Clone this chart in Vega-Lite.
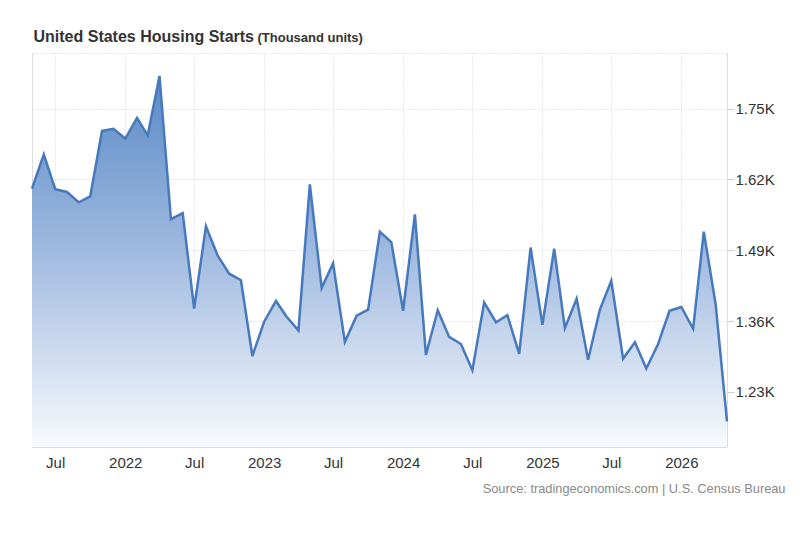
{
  "$schema": "https://vega.github.io/schema/vega-lite/v6.json",
  "width": 695,
  "height": 394,
  "autosize": {"type": "none"},
  "padding": {"left": 32, "top": 53, "right": 73, "bottom": 99},
  "background": "#ffffff",
  "config": {
    "view": {"stroke": null},
    "font": "Liberation Sans"
  },
  "data": {
    "values": [
      {"date": "2021/05/01", "starts": 1603},
      {"date": "2021/06/01", "starts": 1666},
      {"date": "2021/07/01", "starts": 1602},
      {"date": "2021/08/01", "starts": 1597},
      {"date": "2021/09/01", "starts": 1578},
      {"date": "2021/10/01", "starts": 1589},
      {"date": "2021/11/01", "starts": 1709},
      {"date": "2021/12/01", "starts": 1713},
      {"date": "2022/01/01", "starts": 1695},
      {"date": "2022/02/01", "starts": 1733},
      {"date": "2022/03/01", "starts": 1701},
      {"date": "2022/04/01", "starts": 1810},
      {"date": "2022/05/01", "starts": 1547},
      {"date": "2022/06/01", "starts": 1558},
      {"date": "2022/07/01", "starts": 1383},
      {"date": "2022/08/01", "starts": 1534},
      {"date": "2022/09/01", "starts": 1480},
      {"date": "2022/10/01", "starts": 1447},
      {"date": "2022/11/01", "starts": 1435},
      {"date": "2022/12/01", "starts": 1296},
      {"date": "2023/01/01", "starts": 1359},
      {"date": "2023/02/01", "starts": 1397},
      {"date": "2023/03/01", "starts": 1368},
      {"date": "2023/04/01", "starts": 1343},
      {"date": "2023/05/01", "starts": 1611},
      {"date": "2023/06/01", "starts": 1421},
      {"date": "2023/07/01", "starts": 1466},
      {"date": "2023/08/01", "starts": 1322},
      {"date": "2023/09/01", "starts": 1370},
      {"date": "2023/10/01", "starts": 1381},
      {"date": "2023/11/01", "starts": 1524},
      {"date": "2023/12/01", "starts": 1505},
      {"date": "2024/01/01", "starts": 1379},
      {"date": "2024/02/01", "starts": 1556},
      {"date": "2024/03/01", "starts": 1298},
      {"date": "2024/04/01", "starts": 1380},
      {"date": "2024/05/01", "starts": 1331},
      {"date": "2024/06/01", "starts": 1318},
      {"date": "2024/07/01", "starts": 1270},
      {"date": "2024/08/01", "starts": 1394},
      {"date": "2024/09/01", "starts": 1358},
      {"date": "2024/10/01", "starts": 1371},
      {"date": "2024/11/01", "starts": 1300},
      {"date": "2024/12/01", "starts": 1495},
      {"date": "2025/01/01", "starts": 1353},
      {"date": "2025/02/01", "starts": 1493},
      {"date": "2025/03/01", "starts": 1347},
      {"date": "2025/04/01", "starts": 1401},
      {"date": "2025/05/01", "starts": 1289},
      {"date": "2025/06/01", "starts": 1381},
      {"date": "2025/07/01", "starts": 1434},
      {"date": "2025/08/01", "starts": 1291},
      {"date": "2025/09/01", "starts": 1321},
      {"date": "2025/10/01", "starts": 1273},
      {"date": "2025/11/01", "starts": 1318},
      {"date": "2025/12/01", "starts": 1379},
      {"date": "2026/01/01", "starts": 1386},
      {"date": "2026/02/01", "starts": 1346},
      {"date": "2026/03/01", "starts": 1524},
      {"date": "2026/04/01", "starts": 1392},
      {"date": "2026/05/01", "starts": 1176}
    ]
  },
  "resolve": {"axis": {"x": "independent", "y": "independent"}},
  "layer": [
    {
      "mark": {
        "type": "area",
        "fill": {
          "x1": 0, "y1": 0, "x2": 0, "y2": 1,
          "gradient": "linear",
          "stops": [
            {"offset": 0, "color": "#5a8ac6"},
            {"offset": 0.45, "color": "#9cb7de"},
            {"offset": 1, "color": "#f8fafd"}
          ]
        }
      },
      "encoding": {
        "x": {
          "field": "date",
          "type": "temporal",
          "scale": {"nice": false},
          "axis": {
            "orient": "bottom",
            "values": [
              {"year": 2021, "month": 7, "date": 1},
              {"year": 2022, "month": 1, "date": 1},
              {"year": 2022, "month": 7, "date": 1},
              {"year": 2023, "month": 1, "date": 1},
              {"year": 2023, "month": 7, "date": 1},
              {"year": 2024, "month": 1, "date": 1},
              {"year": 2024, "month": 7, "date": 1},
              {"year": 2025, "month": 1, "date": 1},
              {"year": 2025, "month": 7, "date": 1},
              {"year": 2026, "month": 1, "date": 1}
            ],
            "labelExpr": "month(datum.value) === 0 ? timeFormat(datum.value, '%Y') : timeFormat(datum.value, '%b')",
            "labelFontSize": 15,
            "labelColor": "#333333",
            "labelPadding": 8,
            "labelFlush": false,
            "labelOverlap": false,
            "ticks": false,
            "grid": true,
            "gridColor": "#d4d4d4",
            "gridDash": [1, 2],
            "domain": true,
            "domainColor": "#dddddd",
            "title": "Source: tradingeconomics.com | U.S. Census Bureau",
            "titleFontSize": 12.8,
            "titleFontWeight": "normal",
            "titleColor": "#888888",
            "titleAlign": "right",
            "titleAnchor": "end",
            "titleBaseline": "alphabetic",
            "titleX": 753,
            "titleY": 45
          }
        },
        "y": {
          "field": "starts",
          "type": "quantitative",
          "scale": {"domain": [1129, 1852], "nice": false, "zero": false},
          "axis": {
            "orient": "right",
            "values": [1230, 1360, 1490, 1620, 1750],
            "labelExpr": "format(datum.value / 1000, '.2f') + 'K'",
            "labelFontSize": 15,
            "labelColor": "#333333",
            "labelPadding": 1,
            "tickSize": 7,
            "tickColor": "#cccccc",
            "grid": true,
            "gridColor": "#d4d4d4",
            "gridDash": [1, 2],
            "domain": true,
            "domainColor": "#dddddd",
            "title": null
          }
        },
        "y2": {"datum": 1129}
      }
    },
    {
      "mark": {"type": "line", "color": "#4679bd", "strokeWidth": 2.5},
      "encoding": {
        "x": {
          "field": "date",
          "type": "temporal",
          "axis": {
            "orient": "top",
            "labels": false,
            "ticks": false,
            "grid": false,
            "domain": true,
            "domainColor": "#d4d4d4",
            "domainDash": [1, 2],
            "title": "United States Housing Starts",
            "titleFontSize": 16,
            "titleFontWeight": "bold",
            "titleColor": "#333333",
            "titleAlign": "left",
            "titleAnchor": "start",
            "titleBaseline": "alphabetic",
            "titleX": 1,
            "titleY": -12
          }
        },
        "y": {
          "field": "starts",
          "type": "quantitative",
          "axis": {
            "orient": "left",
            "labels": false,
            "ticks": false,
            "grid": false,
            "domain": true,
            "domainColor": "#dddddd",
            "title": "(Thousand units)",
            "titleAngle": 0,
            "titleFontSize": 13,
            "titleFontWeight": "bold",
            "titleColor": "#333333",
            "titleAlign": "left",
            "titleAnchor": "start",
            "titleBaseline": "alphabetic",
            "titleX": 225,
            "titleY": -12
          }
        }
      }
    }
  ]
}
